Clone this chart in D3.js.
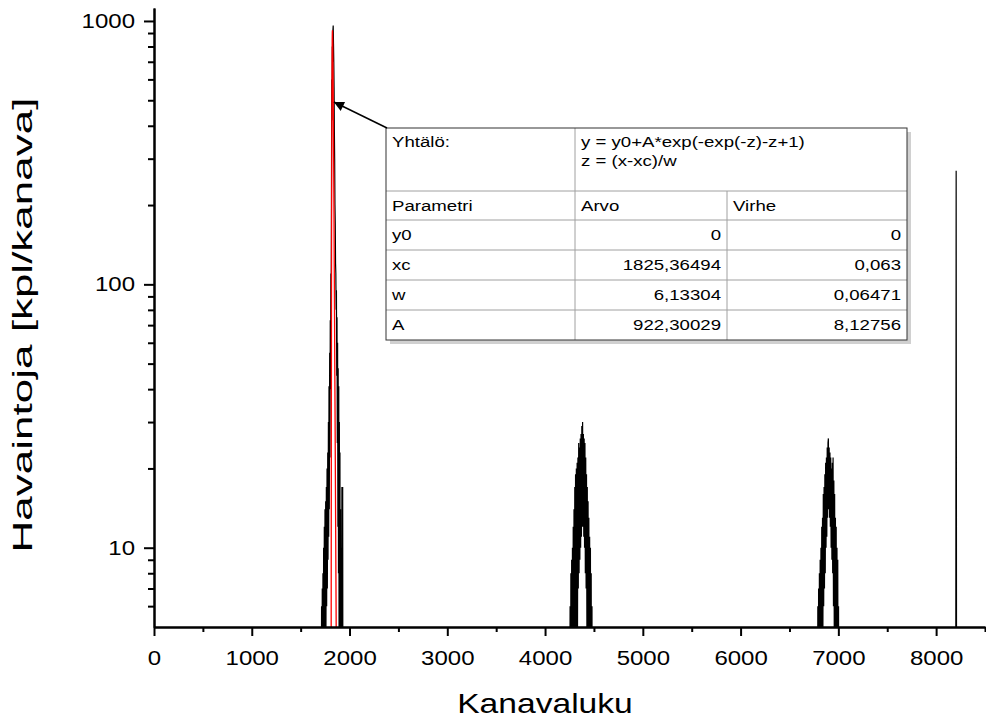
<!DOCTYPE html>
<html>
<head>
<style>
  html, body { margin: 0; padding: 0; background: #fff; overflow: hidden; }
  text { font-family: Arial, "Liberation Sans", sans-serif; fill: #000; }
</style>
</head>
<body>
<script src="https://d3js.org/d3.v7.min.js"></script>
<script>
const width = 986, height = 720;

// measured spectrum around the three peaks (channel, counts), zero elsewhere
const peak1Channels = [1708,1714,1717,1721,1724,1728,1731,1735,1738,1742,1745,1749,1752,1756,1759,1763,1766,1770,1773,1777,1780,1784,1787,1790,1793,1797,1800,1803,1806,1809,1812,1815,1818,1821,1824,1827,1830,1833,1836,1839,1842,1845,1848,1851,1854,1857,1860,1863,1866,1869,1872,1875,1878,1881,1884,1887,1890,1893,1896,1899,1902,1905,1908,1911,1914,1917,1922,1925,1930,1933];
const peak1Counts   = [0,6,0,7,1,8,2,10,3,12,4,14,5,15,5,17,6,20,7,23,9,30,11,41,14,55,22,73,40,110,80,200,600,420,800,700,920,960,820,700,560,380,300,200,170,120,110,80,95,45,75,25,60,12,48,8,41,5,30,3,23,2,14,0,10,0,17,0,17,0];

const peak2Channels = [4250,4256,4260,4264,4268,4272,4276,4280,4284,4288,4292,4296,4300,4304,4308,4312,4316,4320,4324,4328,4332,4336,4340,4344,4348,4352,4356,4360,4364,4368,4372,4376,4380,4384,4388,4392,4396,4400,4404,4408,4412,4416,4420,4424,4428,4432,4436,4440,4444,4448,4452,4456,4460,4464,4468,4472,4476,4480,4484];
const peak2Counts   = [0,6,0,8,1,9,2,10,3,12,2,14,3,17,4,19,3,20,4,21,5,22,7,25,8,24,9,26,10,27,11,29,12,30,12,27,11,26,10,25,8,22,7,19,5,17,4,15,3,13,2,11,2,10,0,8,0,6,0];

const peak3Channels = [6786,6790,6794,6798,6802,6806,6810,6814,6818,6822,6826,6830,6834,6838,6842,6846,6850,6854,6858,6862,6866,6870,6874,6878,6882,6886,6890,6894,6898,6902,6906,6910,6914,6918,6922,6926,6930,6934,6938,6942,6946,6950,6954,6958,6962,6966,6970,6974,6978,6982,6986,6990,6994,6998,7002,7006];
const peak3Counts   = [0,6,0,7,1,8,2,9,3,10,2,12,4,13,5,16,6,17,7,19,8,21,10,22,11,24,13,25,26,14,24,13,23,12,22,10,20,9,21,8,22,6,18,5,16,3,13,2,12,1,10,0,9,0,6,0];

const spikeChannels = [8200, 8205, 8210];
const spikeCounts   = [0, 270, 0];

// fitted curve shown in red
const fitChannels = [1811.9,1813.1,1814.3,1815.5,1816.8,1818.0,1819.2,1820.5,1821.7,1822.9,1824.1,1825.4,1828.4,1831.5,1834.6,1837.6,1840.7,1843.8,1846.8,1849.9,1856.0,1862.2,1868.3];
const fitCounts   = [2.7,11.5,35.8,87.7,176,301,450,603,739,841,903,922,829,638,448,296,190,119,73.4,45.1,16.8,6.2,2.3];

const xTicks = [0,1000,2000,3000,4000,5000,6000,7000,8000];
const xMinorTicks = [500,1500,2500,3500,4500,5500,6500,7500,8500];
const yTicks = [10,100,1000];
const yMinorTicks = [6,7,8,9,20,30,40,50,60,70,80,90,200,300,400,500,600,700,800,900];

const paramNames  = ["y0", "xc", "w", "A"];
const paramValues = ["0", "1825,36494", "6,13304", "922,30029"];
const paramErrors = ["0", "0,063", "0,06471", "8,12756"];

const plotLeft = 154, plotRight = 985, plotTop = 8, plotBottom = 627;
const stretch = 1.2; // the original picture is a bit wider than tall

const x = d3.scaleLinear().domain([0, 8500]).range([plotLeft, plotRight]);
const y = d3.scaleLog().domain([5, 1120]).range([plotBottom, plotTop]);

const svg = d3.select("body").append("svg")
    .attr("width", width)
    .attr("height", height);

// widen a horizontal text element by the stretch factor
function widen(sel) {
  sel.each(function () {
    const w = this.getComputedTextLength();
    d3.select(this).attr("textLength", w * stretch).attr("lengthAdjust", "spacingAndGlyphs");
  });
}

svg.append("clipPath").attr("id", "plot")
  .append("rect")
    .attr("x", plotLeft).attr("y", 0)
    .attr("width", width - plotLeft).attr("height", plotBottom);

function zip(ch, cnt) { return ch.map((c, i) => [c, cnt[i]]); }

const spectrum = [[0, 0]]
    .concat(zip(peak1Channels, peak1Counts))
    .concat(zip(peak2Channels, peak2Counts))
    .concat(zip(peak3Channels, peak3Counts))
    .concat(zip(spikeChannels, spikeCounts))
    .concat([[8500, 0]]);

const line = d3.line()
    .x(d => x(d[0]))
    .y(d => y(Math.max(d[1], 1)));

const plot = svg.append("g").attr("clip-path", "url(#plot)");

plot.append("path")
    .datum(spectrum)
    .attr("fill", "none")
    .attr("stroke", "#000")
    .attr("stroke-width", 1.2)
    .attr("d", line);

plot.append("path")
    .datum(zip(fitChannels, fitCounts))
    .attr("fill", "none")
    .attr("stroke", "#ff0000")
    .attr("stroke-width", 1.3)
    .attr("d", line);

// axes
svg.append("g")
    .attr("transform", `translate(0,${plotBottom})`)
    .call(d3.axisBottom(x).tickValues(xTicks).tickSize(9).tickSizeOuter(0).tickPadding(15).tickFormat(d3.format("d")));
svg.append("g")
    .attr("transform", `translate(0,${plotBottom})`)
    .call(d3.axisBottom(x).tickValues(xMinorTicks).tickSize(5).tickSizeOuter(0).tickFormat(""));

svg.append("g")
    .attr("transform", `translate(${plotLeft},0)`)
    .call(d3.axisLeft(y).tickValues(yTicks).tickSize(10).tickSizeOuter(0).tickPadding(9).tickFormat(d3.format("d")));
svg.append("g")
    .attr("transform", `translate(${plotLeft},0)`)
    .call(d3.axisLeft(y).tickValues(yMinorTicks).tickSize(6).tickSizeOuter(0).tickFormat(""));

svg.selectAll(".domain").attr("stroke", "#000").attr("stroke-width", 2);
svg.selectAll(".tick line").attr("stroke", "#000").attr("stroke-width", 2);
svg.selectAll(".tick text")
    .style("font-family", "Arial, 'Liberation Sans', sans-serif")
    .style("font-size", "20px")
    .call(widen);

svg.append("text")
    .attr("x", 545).attr("y", 713)
    .attr("text-anchor", "middle")
    .style("font-size", "28px")
    .text("Kanavaluku")
    .call(widen);

svg.append("text")
    .attr("transform", "translate(32,325) rotate(-90)")
    .attr("text-anchor", "middle")
    .style("font-size", "27px")
    .attr("textLength", 455)
    .attr("lengthAdjust", "spacingAndGlyphs")
    .text("Havaintoja [kpl/kanava]");

// fit parameter table
const tx = [386, 575, 727, 907];
const ty = [128, 191, 220, 250, 280, 310, 340];
const table = svg.append("g");

table.append("rect")
    .attr("x", tx[0] + 4).attr("y", ty[0] + 4)
    .attr("width", tx[3] - tx[0]).attr("height", ty[6] - ty[0])
    .attr("fill", "#d0d0d0");
table.append("rect")
    .attr("x", tx[0]).attr("y", ty[0])
    .attr("width", tx[3] - tx[0]).attr("height", ty[6] - ty[0])
    .attr("fill", "#fff");

const grid = "#a0a0a0";
ty.slice(1, 6).forEach(v => {
  table.append("line").attr("x1", tx[0]).attr("x2", tx[3]).attr("y1", v).attr("y2", v)
      .attr("stroke", grid);
});
table.append("line").attr("x1", tx[1]).attr("x2", tx[1]).attr("y1", ty[0]).attr("y2", ty[6]).attr("stroke", grid);
table.append("line").attr("x1", tx[2]).attr("x2", tx[2]).attr("y1", ty[1]).attr("y2", ty[6]).attr("stroke", grid);
table.append("rect")
    .attr("x", tx[0]).attr("y", ty[0])
    .attr("width", tx[3] - tx[0]).attr("height", ty[6] - ty[0])
    .attr("fill", "none").attr("stroke", "#333");

const fs = "15.5px";
function cell(px, py, str, anchor) {
  return table.append("text")
      .attr("x", px).attr("y", py)
      .attr("text-anchor", anchor || "start")
      .style("font-size", fs)
      .text(str)
      .call(widen);
}
cell(tx[0] + 6, ty[0] + 19, "Yhtälö:");
cell(tx[1] + 6, ty[0] + 19, "y = y0+A*exp(-exp(-z)-z+1)");
cell(tx[1] + 6, ty[0] + 38, "z = (x-xc)/w");

cell(tx[0] + 6, ty[1] + 20, "Parametri");
cell(tx[1] + 6, ty[1] + 20, "Arvo");
cell(tx[2] + 6, ty[1] + 20, "Virhe");

paramNames.forEach((p, i) => {
  const base = ty[i + 2] + 20;
  cell(tx[0] + 6, base, p);
  cell(tx[2] - 6, base, paramValues[i], "end");
  cell(tx[3] - 6, base, paramErrors[i], "end");
});

// arrow from table to fitted peak
svg.append("defs").append("marker")
    .attr("id", "head")
    .attr("viewBox", "0 0 10 10")
    .attr("refX", 10).attr("refY", 5)
    .attr("markerWidth", 16).attr("markerHeight", 10)
    .attr("markerUnits", "userSpaceOnUse")
    .attr("orient", "auto")
  .append("path")
    .attr("d", "M0,0 L10,5 L0,10 z")
    .attr("fill", "#000");

svg.append("line")
    .attr("x1", tx[0] + 1).attr("y1", ty[0])
    .attr("x2", x(1840)).attr("y2", 102)
    .attr("stroke", "#000").attr("stroke-width", 1.5)
    .attr("marker-end", "url(#head)");
</script>
</body>
</html>
